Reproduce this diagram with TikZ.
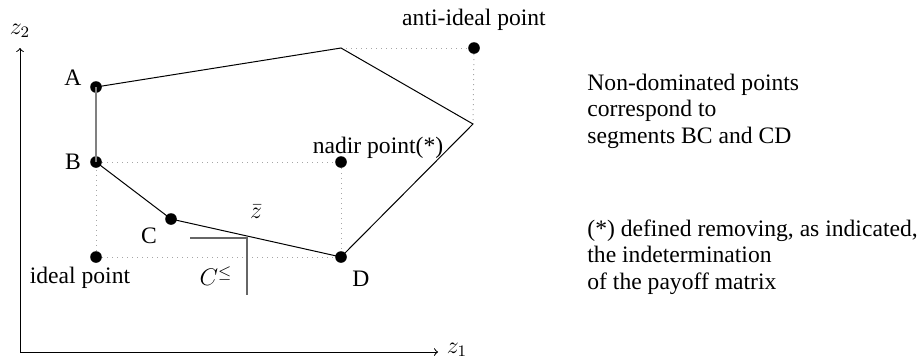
\documentclass[tikz,border=0pt]{standalone}
\usepackage{fontspec}
\setmainfont{Liberation Serif}
\begin{document}
\begin{tikzpicture}[x=0.5pt,y=-0.5pt,
  dot/.style={circle,fill=black,inner sep=0pt,minimum size=5.8pt},
  lbl/.style={font=\fontsize{11.8}{12.2}\selectfont,inner sep=0pt},
  note/.style={font=\fontsize{11.8}{13.2}\selectfont,inner sep=0pt,anchor=west,align=left},
  dotline/.style={gray!70,dotted,line width=0.5pt},
  edge/.style={black,line width=0.5pt},
  axis/.style={line width=0.5pt,->}]
\useasboundingbox (0,0) rectangle (924,360);
% axes
\coordinate (O) at (20,352);
\coordinate (Xe) at (438,352);
\coordinate (Ye) at (20,48);
\draw[axis] (O) -- (Xe);
\draw[axis] (O) -- (Ye);
\node[lbl] (z1) at (457,350) {$z_1$};
\node[lbl] (z2) at (20,31) {$z_2$};
% points
\node[dot] (A) at (96,87) {};
\node[dot] (B) at (96,162) {};
\node[dot] (C) at (171,219) {};
\node[dot] (D) at (341,257) {};
\node[dot] (I) at (96,257) {};
\node[dot] (N) at (341,162) {};
\node[dot] (AI) at (474,48) {};
\coordinate (T) at (341,48);
\coordinate (R) at (473,124);
% dotted guides
\draw[dotline] (B) -- (N);
\draw[dotline] (N) -- (D);
\draw[dotline] (I) -- (B);
\draw[dotline] (I) -- (D);
\draw[dotline] (T) -- (AI);
\draw[dotline] (AI) -- (R);
% polygon
\draw[edge] (A.center) -- (T) -- (R) -- (D.center) -- (C.center) -- (B.center);
\draw[gray,line width=0.6pt] (B.center) -- (A.center);
% cone
\coordinate (K1) at (190,238);
\coordinate (K) at (247,238);
\coordinate (K2) at (247,295);
\draw[gray!80!black,line width=0.6pt] (K1) -- (K) -- (K2);
% labels
\node[lbl] (lA) at (73,78) {A};
\node[lbl] (lB) at (73,162) {B};
\node[lbl] (lC) at (149,236) {C};
\node[lbl] (lD) at (361,279) {D};
\node[lbl] (lI) at (80,278) {ideal point};
\node[lbl] (lN) at (378,148) {nadir point(*)};
\node[lbl] (lAI) at (474,20) {anti-ideal point};
\node[lbl] (zb) at (256,212) {$\bar z$};
\node[lbl] (cl) at (216,276) {$C^{\leq}$};
% notes
\node[note] (n1) at (587,111) {Non-dominated points\\correspond to\\segments BC and CD};
\node[note] (n2) at (587,257) {(*) defined removing, as indicated,\\the indetermination\\of the payoff matrix};
\end{tikzpicture}
\end{document}
